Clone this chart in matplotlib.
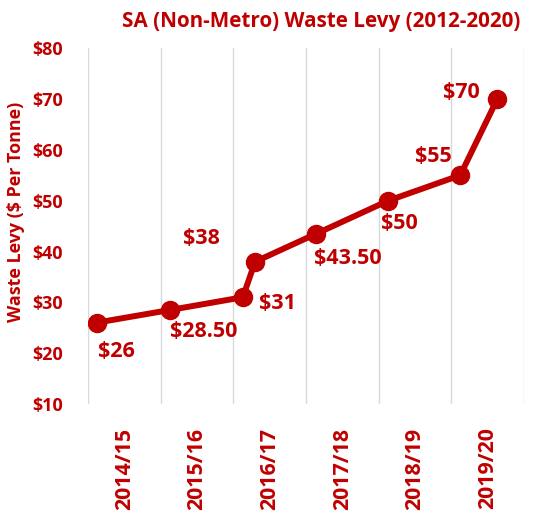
import matplotlib.pyplot as plt
import numpy as np

# levy values ($ per tonne) and where each sits along the year axis
# (0 = start of 2014/15, 1 = start of 2015/16, ...)
levy = [26, 28.5, 31, 38, 43.5, 50, 55, 70]
levy_labels = ["$26", "$28.50", "$31", "$38", "$43.50", "$50", "$55", "$70"]
period_pos = [0.12, 1.13, 2.13, 2.30, 3.14, 4.13, 5.12, 5.63]
years = ["2014/15", "2015/16", "2016/17", "2017/18", "2018/19", "2019/20"]
y_ticks = [10, 20, 30, 40, 50, 60, 70, 80]

# label offsets in pixels from each point
label_offsets = [(20, -29), (34, -22), (35, -6), (-54, 23),
                 (32, -25), (11, -23), (-27, 19), (-36, 7)]

red = "#C00000"
plt.rcParams['font.family'] = ['Open Sans', 'DejaVu Sans']
plt.rcParams['font.weight'] = 'bold'

fig = plt.figure(figsize=(5.36, 5.13), dpi=100)
ax = fig.add_axes([0.164, 0.2125, 0.814, 0.6935])

ax.plot(period_pos, levy, color=red, linewidth=4.3, marker='o',
        markersize=13, solid_capstyle='round', zorder=3)

for x, y, lab, off in zip(period_pos, levy, levy_labels, label_offsets):
    ax.annotate(lab, (x, y), xytext=off, textcoords='offset pixels',
                ha='center', va='center', color=red, fontsize=15.5,
                fontweight='bold')

ax.set_xlim(0, len(years))
ax.set_ylim(10, 80)
ax.set_xticks(np.arange(len(years) + 1), minor=False)
ax.set_xticklabels([])
ax.set_xticks(np.arange(len(years)) + 0.5, minor=True)
ax.set_xticklabels(years, minor=True, rotation=90, color=red,
                   fontsize=15.4, fontweight='bold')
ax.tick_params(axis='x', which='both', length=0, pad=17)
ax.grid(axis='x', which='major', color='#D9D9D9', linewidth=1)
ax.set_axisbelow(True)

ax.set_yticks(y_ticks)
ax.set_yticklabels(["$%d" % v for v in y_ticks], color=red,
                   fontsize=13, fontweight='bold')
ax.tick_params(axis='y', length=0, pad=18)
ax.set_ylabel("Waste Levy ($ Per Tonne)", color=red, fontsize=12.9,
              fontweight='bold')
ax.yaxis.set_label_coords(-0.1445, 0.539)

for s in ax.spines.values():
    s.set_visible(False)

fig.text(0.599, 0.959, "SA (Non-Metro) Waste Levy (2012-2020)", ha='center',
         va='center', color=red, fontsize=14.9, fontweight='bold')

fig.savefig("out.png", dpi=100)
